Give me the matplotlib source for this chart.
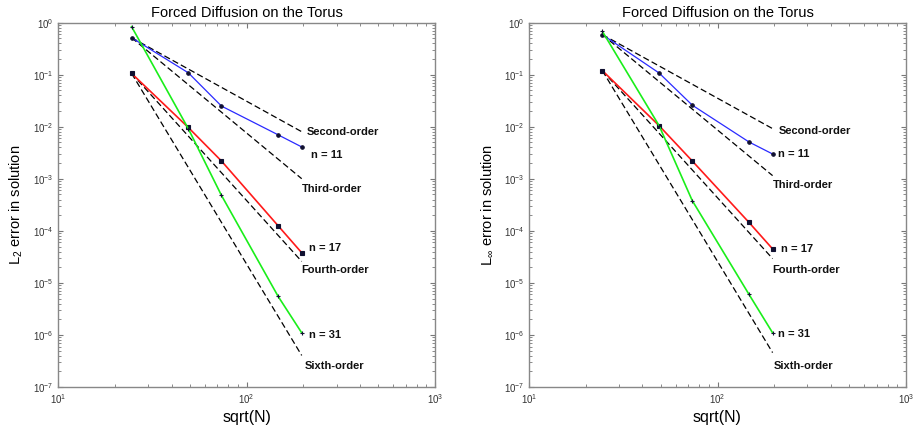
import numpy as np
import matplotlib
matplotlib.use("Agg")
import matplotlib.pyplot as plt
from matplotlib.ticker import LogLocator, NullFormatter

plt.rcParams['font.family'] = ['Liberation Sans', 'DejaVu Sans']
plt.rcParams['mathtext.fontset'] = 'custom'
plt.rcParams['mathtext.rm'] = 'Liberation Sans'
plt.rcParams['mathtext.it'] = 'Liberation Sans:italic'
plt.rcParams['mathtext.bf'] = 'Liberation Sans:bold'

# ---- data ----
sqrt_N = [24.5, 49.0, 73.5, 147.0, 196.0]

l2_n11 = [0.515, 0.109, 0.025, 0.0070, 0.0041]
l2_n17 = [0.106, 0.0097, 0.0022, 1.25e-4, 3.8e-5]
l2_n31 = [0.84, 0.0092, 4.8e-4, 5.5e-6, 1.1e-6]

linf_n11 = [0.59, 0.108, 0.026, 0.0051, 0.0030]
linf_n17 = [0.12, 0.0105, 0.0022, 1.45e-4, 4.5e-5]
linf_n31 = [0.68, 0.0105, 3.8e-4, 6.0e-6, 1.1e-6]

orders = [2, 3, 4, 6]
order_names = ['Second-order', 'Third-order', 'Fourth-order', 'Sixth-order']
series_names = ['n = 11', 'n = 17', 'n = 31']
ylabels = ['L$_2$ error in solution', 'L$_\\infty$ error in solution']
title = 'Forced Diffusion on the Torus'
xlabel = 'sqrt(N)'
xticks = [10, 100, 1000]
yticks = [1e-7, 1e-6, 1e-5, 1e-4, 1e-3, 1e-2, 1e-1, 1]

# ---- style ----
colors = ['#2a2aff', '#ff1a1a', '#1aee1a']
lws = [0.9, 1.2, 1.2]
# offsets (pixels) of annotation texts from line end points, per panel
order_offsets = [
    [(5, 0), (0, -10), (0, -9), (3, -11)],
    [(6, -2), (0, -9.5), (0, -11.4), (1, -13)],
]
series_offsets = [
    [(9, -8), (7, 4.5), (7, -2)],
    [(5, 0), (8, 0), (5, -1.4)],
]

fig = plt.figure(figsize=(9.17, 4.30), dpi=100)
axes_rects = [
    [58.3 / 917, 43 / 430, 376.7 / 917, 364.3 / 430],
    [529 / 917, 43 / 430, 377 / 917, 364.3 / 430],
]
panels = [
    (l2_n11, l2_n17, l2_n31),
    (linf_n11, linf_n17, linf_n31),
]

x = np.array(sqrt_N)
for p, (rect, data) in enumerate(zip(axes_rects, panels)):
    ax = fig.add_axes(rect)
    ax.set_xscale('log')
    ax.set_yscale('log')
    ax.set_xlim(10, 1000)
    ax.set_ylim(1e-7, 1)

    # reference slopes: orders 2,3 anchored at n=11 start, 4,6 at n=17 start
    anchors = [data[0][0], data[0][0], data[1][0], data[1][0]]
    ref_ends = []
    for k, (order, a) in enumerate(zip(orders, anchors)):
        yref = a * (x / x[0]) ** (-order)
        ax.plot(x, yref, color='black', lw=0.9, ls=(0, (5, 2.5)), zorder=2)
        ref_ends.append((x[-1], yref[-1]))

    markers = ['o', 's', '+']
    for i, ys in enumerate(data):
        ax.plot(x, ys, color=colors[i], lw=lws[i], zorder=3,
                marker=markers[i], markersize=2.5, markeredgewidth=0.8,
                markerfacecolor='#101030', markeredgecolor='#101030')

    for k, name in enumerate(order_names):
        ax.annotate(name, xy=ref_ends[k], xytext=order_offsets[p][k],
                    textcoords='offset pixels', ha='left', va='center',
                    fontsize=8, fontweight='bold', color='#111111')
    for i, name in enumerate(series_names):
        ax.annotate(name, xy=(x[-1], data[i][-1]), xytext=series_offsets[p][i],
                    textcoords='offset pixels', ha='left', va='center',
                    fontsize=8, fontweight='bold', color='#111111')

    ax.set_title(title, fontsize=10.5, pad=4)
    ax.set_xlabel(xlabel, fontsize=11.5, labelpad=3)
    ax.set_ylabel(ylabels[p], fontsize=10.5, labelpad=6)

    ax.set_xticks(xticks)
    ax.set_yticks(yticks)
    ax.xaxis.set_minor_locator(LogLocator(base=10, subs=np.arange(2, 10), numticks=20))
    ax.yaxis.set_minor_locator(LogLocator(base=10, subs=np.arange(2, 10), numticks=20))
    ax.xaxis.set_minor_formatter(NullFormatter())
    ax.yaxis.set_minor_formatter(NullFormatter())
    ax.set_xlim(10, 1000)
    ax.set_ylim(1e-7, 1)
    ax.tick_params(which='both', direction='in', top=True, right=True,
                   color='#777777', labelsize=7, labelcolor='#333333')
    ax.tick_params(which='minor', labelbottom=False, labelleft=False)
    ax.tick_params(which='major', length=3.5, width=0.8)
    ax.tick_params(which='minor', length=2, width=0.6)
    for s in ax.spines.values():
        s.set_color('#888888')
        s.set_linewidth(1.0)

fig.savefig('out.png', dpi=100)
